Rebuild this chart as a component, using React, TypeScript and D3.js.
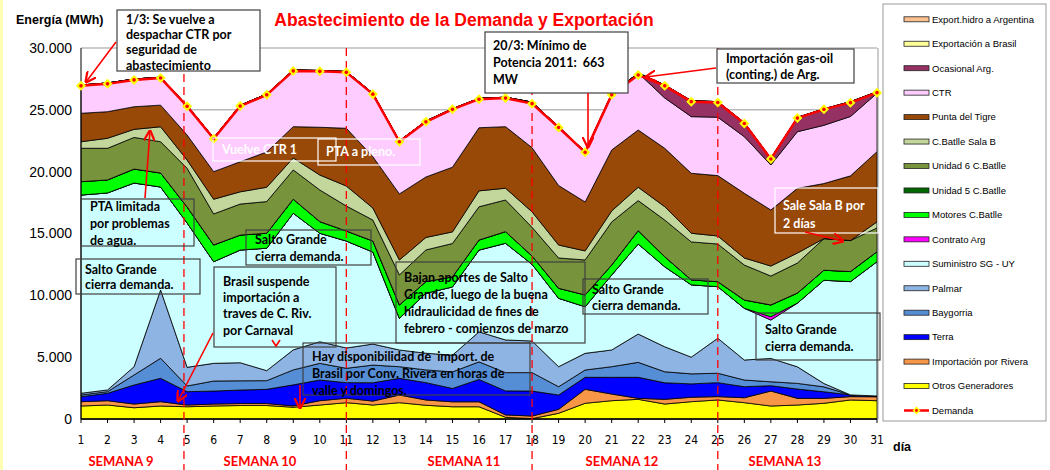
import React from "react";
import * as d3 from "d3";

// días de marzo 2011
const days = [1, 2, 3, 4, 5, 6, 7, 8, 9, 10, 11, 12, 13, 14, 15, 16, 17, 18, 19, 20, 21, 22, 23, 24, 25, 26, 27, 28, 29, 30, 31];

// energía diaria por fuente (MWh), de abajo hacia arriba en la pila
const otros = [1050, 1130, 910, 1050, 990, 1050, 1090, 1090, 950, 1130, 1320, 1130, 1320, 1110, 990, 990, 140, 30, 460, 1270, 1480, 1590, 1210, 1400, 1540, 1320, 1050, 1130, 1270, 1540, 1480];
const rivera = [350, 350, 300, 350, 140, 160, 160, 160, 110, 350, 360, 320, 620, 430, 400, 400, 190, 210, 320, 1130, 540, 80, 380, 360, 270, 400, 1210, 540, 400, 270, 320];
const terra = [400, 600, 1540, 1890, 1080, 1050, 1090, 1150, 1700, 1670, 1260, 1480, 1350, 1400, 1080, 1810, 1940, 2020, 1160, 970, 1350, 1700, 1340, 1080, 1130, 890, 430, 750, 530, 140, 60];
const baygorria = [140, 130, 810, 1620, 460, 810, 750, 700, 1210, 1350, 1160, 1430, 940, 1030, 1340, 1420, 1480, 1490, 670, 590, 860, 1210, 890, 810, 760, 540, 320, 460, 400, 0, 0];
const palmar = [140, 140, 670, 5520, 1510, 1430, 1460, 810, 1620, 1750, 1640, 1700, 1350, 1350, 1350, 2430, 2640, 2560, 1620, 1350, 1350, 2290, 2020, 1350, 2830, 1620, 1890, 1340, 270, 0, 0];
const sgUy = [16030, 15930, 14850, 8330, 11670, 8220, 9110, 9900, 11050, 8770, 8650, 7440, 2560, 4850, 5520, 6610, 7820, 6200, 5530, 3770, 6060, 7280, 6470, 5850, 4170, 4180, 3100, 5150, 8350, 9160, 10860];
const contratoArg = [0, 0, 0, 0, 0, 0, 0, 0, 0, 0, 0, 0, 0, 0, 0, 0, 0, 0, 0, 0, 0, 0, 0, 0, 0, 0, 270, 0, 0, 0, 0];
const motores = [1080, 1050, 1130, 1130, 1290, 1350, 1210, 1210, 1130, 940, 810, 890, 1080, 940, 810, 810, 940, 670, 810, 950, 810, 1080, 810, 400, 400, 670, 950, 810, 810, 810, 810];
const unidad5 = [0, 0, 0, 0, 0, 0, 0, 0, 0, 0, 0, 0, 0, 0, 0, 0, 0, 0, 0, 0, 0, 0, 0, 0, 0, 0, 0, 0, 0, 0, 0];
const unidad6 = [2700, 2560, 2560, 2530, 3130, 2510, 2510, 2560, 2370, 2560, 2020, 1700, 2430, 2560, 2700, 2690, 2560, 2320, 2450, 2830, 3480, 2430, 2970, 3070, 3050, 2830, 2340, 2430, 2560, 2510, 1920];
const salaB = [530, 810, 650, 1210, 670, 1190, 990, 1160, 970, 1210, 1620, 970, 1210, 1010, 940, 1290, 950, 1250, 1050, 730, 890, 1080, 1080, 700, 650, 570, 810, 810, 0, 0, 490];
const pta = [2300, 2150, 1830, 1750, 2020, 2230, 2430, 2850, 2530, 3860, 4670, 4150, 5340, 4890, 5230, 5100, 4980, 5190, 4810, 3960, 4930, 4630, 4720, 4850, 4880, 5230, 4530, 5230, 4450, 5230, 5680];
const ctr = [2290, 2320, 2240, 2260, 2390, 2730, 4570, 4690, 4580, 4590, 4590, 5130, 4290, 4530, 4730, 2380, 2380, 3680, 4750, 4070, 4530, 4610, 4070, 4580, 4720, 4580, 3640, 4580, 4710, 4800, 4720];
const ocasional = [0, 0, 0, 0, 0, 0, 0, 0, 0, 0, 0, 0, 0, 0, 0, 0, 0, 0, 0, 0, 0, 0, 1050, 1290, 1260, 1130, 540, 1160, 1330, 1200, 120];
const exportBrasil = [0, 0, 0, 0, 0, 0, 0, 0, 0, 0, 0, 0, 0, 0, 0, 0, 0, 0, 0, 0, 0, 0, 0, 0, 0, 0, 0, 0, 0, 0, 0];
const exportHidro = [0, 0, 0, 0, 0, 0, 0, 0, 0, 0, 0, 0, 0, 0, 0, 0, 0, 0, 0, 0, 0, 0, 0, 0, 0, 0, 0, 0, 0, 0, 0];

const demanda = [26940, 27100, 27420, 27580, 25280, 22660, 25300, 26210, 28150, 28110, 28030, 26270, 22420, 24030, 25040, 25860, 25950, 25500, 23570, 21560, 26210, 27820, 26940, 25660, 25590, 23900, 21030, 24330, 25040, 25580, 26390];

const yTicks = [0, 5000, 10000, 15000, 20000, 25000, 30000];
const weekLines = [4.88, 11, 18, 25];
const weeks = [
  { label: "SEMANA 9", x: 121 },
  { label: "SEMANA 10", x: 260 },
  { label: "SEMANA 11", x: 464 },
  { label: "SEMANA 12", x: 622 },
  { label: "SEMANA 13", x: 785 },
];

const series = [
  { key: "otros", name: "Otros Generadores", color: "#ffff00", values: otros },
  { key: "rivera", name: "Importación por Rivera", color: "#f79646", values: rivera },
  { key: "terra", name: "Terra", color: "#0000ff", values: terra },
  { key: "baygorria", name: "Baygorria", color: "#558ed5", values: baygorria },
  { key: "palmar", name: "Palmar", color: "#8eb4e3", values: palmar },
  { key: "sgUy", name: "Suministro SG - UY", color: "#ccffff", values: sgUy },
  { key: "contratoArg", name: "Contrato Arg", color: "#ff00ff", values: contratoArg },
  { key: "motores", name: "Motores C.Batlle", color: "#00ff00", values: motores },
  { key: "unidad5", name: "Unidad 5 C.Batlle", color: "#006600", values: unidad5 },
  { key: "unidad6", name: "Unidad 6 C.Batlle", color: "#77933c", values: unidad6 },
  { key: "salaB", name: "C.Batlle Sala B", color: "#c3d69b", values: salaB },
  { key: "pta", name: "Punta del Tigre", color: "#984807", values: pta },
  { key: "ctr", name: "CTR", color: "#ffccff", values: ctr },
  { key: "ocasional", name: "Ocasional Arg.", color: "#953163", values: ocasional },
  { key: "exportBrasil", name: "Exportación a Brasil", color: "#ffff99", values: exportBrasil },
  { key: "exportHidro", name: "Export.hidro a Argentina", color: "#fac090", values: exportHidro },
];

const annotations = [
  { x: 117, y: 10, w: 143, h: 61, fill: "#fff", stroke: "#404040", color: "#000", tx: 126, cy: [19.5, 34.8, 50, 65.3], lines: ["1/3: Se vuelve a", "despachar CTR por", "seguridad de", "abastecimiento"] },
  { x: 485, y: 32, w: 143, h: 61, fill: "#fff", stroke: "#404040", color: "#000", tx: 493, cy: [46, 63, 80], lines: ["20/3: Mínimo de", "Potencia 2011:  663", "MW"] },
  { x: 717, y: 49, w: 137, h: 34, fill: "#fff", stroke: "#404040", color: "#000", tx: 726, cy: [58.5, 75], lines: ["Importación gas-oil", "(conting.) de Arg."] },
  { x: 213, y: 138, w: 123, h: 23, fill: "none", stroke: "#fff", color: "#fff", tx: 222, cy: [150], lines: ["Vuelve CTR 1"] },
  { x: 318, y: 139, w: 102, h: 26, fill: "none", stroke: "#fff", color: "#fff", tx: 326, cy: [152], lines: ["PTA a pleno."] },
  { x: 81, y: 199, w: 113, h: 47, fill: "none", stroke: "#404040", color: "#000", tx: 90, cy: [207, 224, 241], lines: ["PTA limitada", "por problemas", "de agua."] },
  { x: 76, y: 259, w: 124, h: 35, fill: "none", stroke: "#404040", color: "#000", tx: 85, cy: [269.5, 285], lines: ["Salto Grande", "cierra demanda."] },
  { x: 246, y: 230, w: 125, h: 35, fill: "none", stroke: "#404040", color: "#000", tx: 255, cy: [240, 257], lines: ["Salto Grande", "cierra demanda."] },
  { x: 214, y: 267, w: 122, h: 80, fill: "none", stroke: "#404040", color: "#000", tx: 223, cy: [281.7, 297.7, 314, 330.5], lines: ["Brasil suspende", "importación a", "traves de C. Riv.", "por Carnaval"] },
  { x: 303, y: 343, w: 227, h: 52, fill: "none", stroke: "#404040", color: "#000", tx: 312, cy: [356.7, 373.3, 390.5], lines: ["Hay disponibilidad de  import. de", "Brasil por Conv. Rivera en horas de", "valle y domingos."] },
  { x: 396, y: 262, w: 189, h: 81, fill: "none", stroke: "#404040", color: "#000", tx: 404, cy: [277.5, 294.5, 311.5, 328.5], lines: ["Bajan aportes de Salto", "Grande, luego de la buena", "hidraulicidad de fines de", "febrero - comienzos de marzo"] },
  { x: 583, y: 279, w: 125, h: 35, fill: "none", stroke: "#404040", color: "#000", tx: 592, cy: [289.5, 306], lines: ["Salto Grande", "cierra demanda."] },
  { x: 756, y: 313, w: 124, h: 47, fill: "none", stroke: "#404040", color: "#000", tx: 765, cy: [330, 346.5], lines: ["Salto Grande", "cierra demanda."] },
  { x: 775, y: 188, w: 103, h: 45, fill: "none", stroke: "#fff", color: "#fff", tx: 783, cy: [206, 224], lines: ["Sale Sala B por", "2 días"] },
];

const arrows = [
  [116, 42, 86, 82],
  [588, 93, 588, 147],
  [716, 68, 646, 77],
  [145, 198, 150, 131],
  [213, 333, 178, 401],
  [300, 385, 300, 408],
  [805, 232, 843, 241],
];

const W = 1050;
const H = 470;
const x = d3.scaleLinear().domain([1, 31]).range([81, 877]);
const y = d3.scaleLinear().domain([0, 30000]).range([419, 48]);
const fmt = (v: number) => d3.format(",")(v).replace(/,/g, ".");

export default function App() {
  const rows = days.map((d, i) => {
    const r: any = { day: d };
    series.forEach(s => (r[s.key] = s.values[i]));
    return r;
  });
  const stacked = d3.stack().keys(series.map(s => s.key))(rows);
  const area = d3.area<any>()
    .x((d: any) => x(d.data.day))
    .y0((d: any) => y(d[0]))
    .y1((d: any) => y(d[1]));
  const line = d3.line<number>().x((_, i) => x(days[i])).y(v => y(v));

  const annFont = "Lato, 'Open Sans', sans-serif";
  const axFont = "'Liberation Sans', Arial, sans-serif";
  const legendItems = [...series].reverse();

  return (
    <svg width={W} height={H} style={{ position: "absolute", left: 0, top: 0, background: "#fff" }}>
      <defs>
        <marker id="arr" viewBox="0 0 10 10" refX="9" refY="5" markerWidth="7" markerHeight="7" orient="auto">
          <path d="M0,0 L10,5 L0,10" fill="none" stroke="#ff0000" strokeWidth="2" />
        </marker>
      </defs>
      <rect x={0} y={0} width={3} height={H} fill="#ffffb3" />

      <text x={464} y={26} textAnchor="middle" fill="#ff0000" fontFamily={axFont} fontWeight="bold" fontSize={17.5}>
        Abastecimiento de la Demanda y Exportación
      </text>
      <text x={16} y={24} fontFamily={axFont} fontWeight="bold" fontSize={12.5}>Energía (MWh)</text>

      {/* grilla y marco */}
      {yTicks.map(t => (
        <g key={t}>
          <line x1={x(1)} x2={x(31)} y1={y(t)} y2={y(t)} stroke="#999" strokeWidth={1} />
          <text x={72} y={y(t)} dy="0.35em" textAnchor="end" fontFamily={axFont} fontSize={14}>{fmt(t)}</text>
        </g>
      ))}
      <line x1={x(31) + 1} x2={x(31) + 1} y1={y(30000)} y2={y(0)} stroke="#999" />

      {/* áreas apiladas */}
      {stacked.map((s, i) => (
        <path key={s.key} d={area(s as any) || ""} fill={series[i].color} stroke="#000" strokeWidth={0.8} strokeLinejoin="round" />
      ))}

      {/* ejes */}
      <line x1={x(1)} x2={x(1)} y1={y(30000)} y2={y(0)} stroke="#000" />
      <line x1={x(1)} x2={x(31)} y1={y(0)} y2={y(0)} stroke="#000" strokeWidth={1.5} />
      {days.map(d => (
        <g key={d}>
          <line x1={x(d)} x2={x(d)} y1={y(0)} y2={y(0) + 4} stroke="#000" />
          <text x={x(d)} y={440} dy="0.35em" textAnchor="middle" fontFamily="'Liberation Sans Narrow', 'DejaVu Sans Condensed', Arial, sans-serif" fontSize={12}>{d}</text>
        </g>
      ))}
      <text x={893} y={451} fontFamily={axFont} fontWeight="bold" fontSize={12.5}>día</text>
      {weeks.map(w => (
        <text key={w.label} x={w.x} y={466} textAnchor="middle" fill="#ff0000" fontFamily={annFont} fontWeight="bold" fontSize={13}>{w.label}</text>
      ))}

      {/* separadores de semana */}
      {weekLines.map(d => (
        <line key={d} x1={x(d)} x2={x(d)} y1={y(30000)} y2={H} stroke="#ff0000" strokeWidth={1.3} strokeDasharray="8,5" />
      ))}

      {/* demanda */}
      <path d={line(demanda) || ""} fill="none" stroke="#ff0000" strokeWidth={2.5} strokeLinejoin="round" />
      {demanda.map((v, i) => (
        <g key={i} transform={`translate(${x(days[i])},${y(v)})`}>
          <path d="M0,-5 L5,0 L0,5 L-5,0 Z" fill="#ffff00" />
          <circle r={1.8} fill="#ff0000" />
        </g>
      ))}

      {/* anotaciones */}
      {annotations.map((a, i) => (
        <g key={i}>
          <rect x={a.x} y={a.y} width={a.w} height={a.h} fill={a.fill} stroke={a.stroke} strokeWidth={1.2} />
          {a.lines.map((l, j) => (
            <text key={j} x={a.tx} y={a.cy[j]} dy="0.35em" fill={a.color} fontFamily={annFont} fontWeight="bold" fontSize={12.5} style={{ whiteSpace: "pre" }}>{l}</text>
          ))}
        </g>
      ))}
      {arrows.map((a, i) => (
        <line key={i} x1={a[0]} y1={a[1]} x2={a[2]} y2={a[3]} stroke="#ff0000" strokeWidth={1.6} markerEnd="url(#arr)" />
      ))}
      <polyline points="272,340 276,346 280,340" fill="none" stroke="#ff0000" strokeWidth={1.6} />

      {/* leyenda */}
      <rect x={883} y={4} width={163} height={417} fill="#fff" stroke="#999" />
      {legendItems.map((s, i) => (
        <g key={s.key} transform={`translate(0,${19.3 + i * 24.45})`}>
          <rect x={904} y={-2.5} width={25} height={5} fill={s.color} stroke="#222" strokeWidth={0.8} />
          <text x={932} y={0} dy="0.35em" fontFamily={axFont} fontSize={9.5}>{s.name}</text>
        </g>
      ))}
      <g transform={`translate(0,${19.3 + 16 * 24.45})`}>
        <line x1={904} x2={929} y1={0} y2={0} stroke="#ff0000" strokeWidth={2.5} />
        <path d="M916.5,-4 L920.5,0 L916.5,4 L912.5,0 Z" fill="#ffff00" />
        <circle cx={916.5} r={1.4} fill="#ff0000" />
        <text x={932} y={0} dy="0.35em" fontFamily={axFont} fontSize={9.5}>Demanda</text>
      </g>
    </svg>
  );
}
